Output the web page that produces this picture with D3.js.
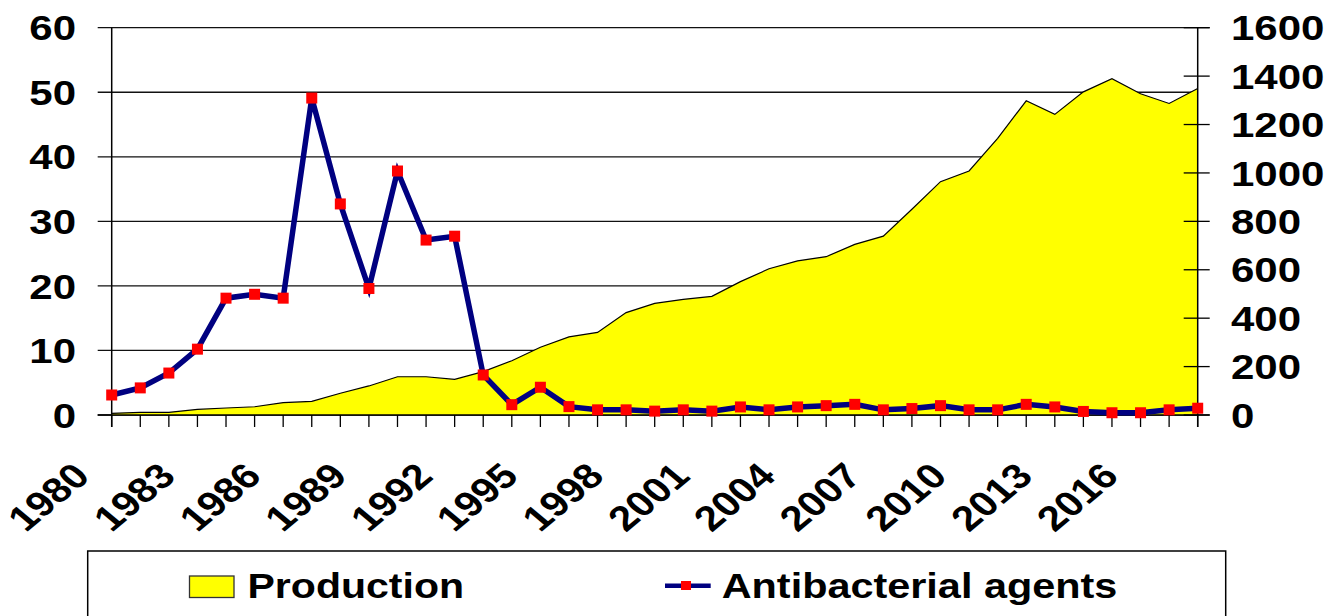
<!DOCTYPE html>
<html lang="en">
<head>
    <meta charset="UTF-8">
    <title>Production and antibacterial agents</title>
    <style>
        body { margin: 0; background: #fff; }
        text { font-family: "Liberation Sans", Arial, sans-serif; font-weight: bold; fill: #000; }
    </style>
</head>
<body>
    <div id="chart"></div>

    <script src="https://d3js.org/d3.v7.min.js"></script>
    <script>
        // data
        const years = d3.range(1980, 2019);
        const production = [7, 11, 11, 23, 29, 34, 51, 56, 90, 120, 158, 158, 147, 179, 224, 280, 323, 341, 423, 461,
                            478, 490, 551, 604, 637, 654, 705, 739, 850, 964, 1008, 1143, 1298, 1242, 1335, 1389, 1327, 1287, 1349];
        const antibacterial = [3.1, 4.2, 6.5, 10.2, 18.1, 18.7, 18.1, 49.1, 32.7, 19.6, 37.8, 27.1, 27.7, 6.2, 1.6, 4.3, 1.3, 0.8, 0.8, 0.6,
                               0.8, 0.6, 1.25, 0.8, 1.25, 1.45, 1.65, 0.8, 1.0, 1.45, 0.8, 0.8, 1.65, 1.25, 0.55, 0.35, 0.35, 0.8, 1.05];
        const leftTicks = [0, 10, 20, 30, 40, 50, 60];
        const rightTicks = [0, 200, 400, 600, 800, 1000, 1200, 1400, 1600];
        const labelYears = d3.range(1980, 2019, 3).filter(y => y <= 2016);

        const svg = d3.select("#chart").append("svg").attr("width", 1338).attr("height", 616);
        const margin = {top: 27.7, left: 111.7, right: 1197.7, bottom: 415};
        const stretch = 1.2;

        const xScale = d3.scalePoint().domain(years).range([margin.left, margin.right]);
        const yLeft = d3.scaleLinear().domain([0, 60]).range([margin.bottom, margin.top]);
        const yRight = d3.scaleLinear().domain([0, 1600]).range([margin.bottom, margin.top]);

        // gridlines from the left axis
        svg.append("g").selectAll("line")
            .data(leftTicks)
            .enter().append("line")
            .attr("x1", margin.left - 14).attr("x2", d => d === 60 ? margin.right + 12 : margin.right)
            .attr("y1", d => yLeft(d)).attr("y2", d => yLeft(d))
            .attr("stroke", "#111").attr("stroke-width", 1.3);

        // production area
        const area = d3.area()
            .x((d, i) => xScale(years[i]))
            .y0(yRight(0))
            .y1(d => yRight(d));
        svg.append("path").datum(production)
            .attr("d", area)
            .attr("fill", "#ffff00");
        svg.append("path").datum(production)
            .attr("d", d3.line().x((d, i) => xScale(years[i])).y(d => yRight(d)))
            .attr("fill", "none").attr("stroke", "#000").attr("stroke-width", 1.2);

        // axis lines
        svg.append("line").attr("x1", margin.left).attr("x2", margin.left)
            .attr("y1", margin.top).attr("y2", margin.bottom + 12)
            .attr("stroke", "#000").attr("stroke-width", 1.5);
        svg.append("line").attr("x1", margin.right).attr("x2", margin.right)
            .attr("y1", margin.top).attr("y2", margin.bottom + 12)
            .attr("stroke", "#000").attr("stroke-width", 1.5);
        svg.append("line").attr("x1", margin.left - 14).attr("x2", margin.right + 12)
            .attr("y1", margin.bottom).attr("y2", margin.bottom)
            .attr("stroke", "#000").attr("stroke-width", 1.5);

        // x ticks
        svg.append("g").selectAll("line")
            .data(years)
            .enter().append("line")
            .attr("x1", d => xScale(d)).attr("x2", d => xScale(d))
            .attr("y1", margin.bottom).attr("y2", margin.bottom + 12)
            .attr("stroke", "#000").attr("stroke-width", 1.3);

        // right ticks (cross)
        svg.append("g").selectAll("line")
            .data(rightTicks)
            .enter().append("line")
            .attr("x1", margin.right - 14).attr("x2", margin.right + 12)
            .attr("y1", d => yRight(d)).attr("y2", d => yRight(d))
            .attr("stroke", "#000").attr("stroke-width", 1.3);

        // left labels
        svg.append("g").selectAll("text")
            .data(leftTicks)
            .enter().append("text")
            .attr("transform", d => "translate(76," + yLeft(d) + ") scale(" + stretch + ",1)")
            .attr("text-anchor", "end")
            .attr("dy", "0.36em")
            .style("font-size", "35px")
            .text(d => d);

        // right labels
        svg.append("g").selectAll("text")
            .data(rightTicks)
            .enter().append("text")
            .attr("transform", d => "translate(1231," + yRight(d) + ") scale(" + stretch + ",1)")
            .attr("text-anchor", "start")
            .attr("dy", "0.36em")
            .style("font-size", "35px")
            .text(d => d);

        // year labels
        svg.append("g").selectAll("text")
            .data(labelYears)
            .enter().append("text")
            .attr("transform", d => "translate(" + (xScale(d) - 20) + ",478) scale(" + stretch + ",1) rotate(-45)")
            .attr("text-anchor", "end")
            .style("font-size", "35px")
            .text(d => d);

        // antibacterial line + markers
        svg.append("path").datum(antibacterial)
            .attr("d", d3.line().x((d, i) => xScale(years[i])).y(d => yLeft(d)))
            .attr("fill", "none").attr("stroke", "#000080").attr("stroke-width", 5.5)
            .attr("stroke-linejoin", "miter");
        svg.append("g").selectAll("rect")
            .data(antibacterial)
            .enter().append("rect")
            .attr("x", (d, i) => xScale(years[i]) - 5.5)
            .attr("y", d => yLeft(d) - 5.5)
            .attr("width", 11).attr("height", 11)
            .attr("fill", "#ff0000");

        // legend
        const legend = svg.append("g");
        legend.append("rect")
            .attr("x", 87.7).attr("y", 551).attr("width", 1138).attr("height", 100)
            .attr("fill", "#fff").attr("stroke", "#000").attr("stroke-width", 1.5);
        legend.append("rect")
            .attr("x", 189.5).attr("y", 576).attr("width", 44.5).attr("height", 21.5)
            .attr("fill", "#ffff00").attr("stroke", "#333").attr("stroke-width", 1.3);
        legend.append("text").attr("transform", "translate(247.5,598.3) scale(1.14,1)")
            .style("font-size", "36px").text("Production");
        legend.append("line").attr("x1", 665).attr("x2", 710.7).attr("y1", 585.7).attr("y2", 585.7)
            .attr("stroke", "#000080").attr("stroke-width", 4.5);
        legend.append("rect").attr("x", 681).attr("y", 581).attr("width", 10).attr("height", 9)
            .attr("fill", "#ff0000");
        legend.append("text").attr("transform", "translate(721.7,598.3) scale(1.15,1)")
            .style("font-size", "36px").text("Antibacterial agents");
    </script>
</body>
</html>
